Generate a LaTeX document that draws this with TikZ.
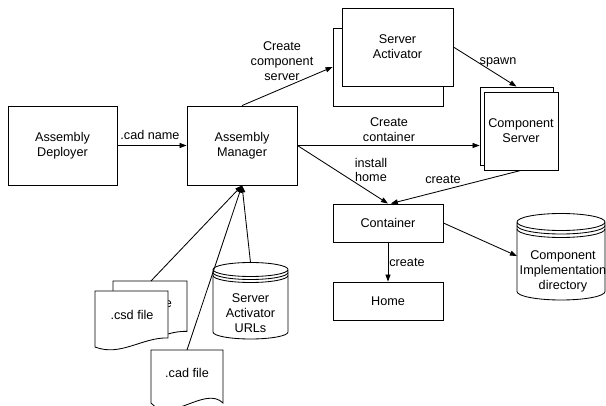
\documentclass[tikz,border=0pt]{standalone}
\usepackage{fontspec}
\setmainfont{Liberation Sans}
\usepackage{tikz}
\usetikzlibrary{arrows.meta}

\begin{document}
\begin{tikzpicture}[x=0.025cm,y=0.025cm,line width=0.6pt,>={Triangle[length=5pt,width=3.6pt]},
  font=\fontsize{9}{10.6}\selectfont,
  box/.style={draw,fill=white,inner sep=1pt,align=center},
  lbl/.style={inner sep=0pt,align=center}]
  \useasboundingbox (0,0) rectangle (606,-406);
  % boxes
  \node[box,minimum width=2.725cm,minimum height=1.975cm] (deployer) at (62.5,-145.5) {Assembly\\Deployer};
  \node[box,minimum width=2.75cm,minimum height=1.975cm] (manager) at (242,-145.5) {Assembly\\Manager};
  \node[box,minimum width=2.75cm,minimum height=1.95cm] (saback) at (388,-67) {};
  \node[box,minimum width=2.775cm,minimum height=1.95cm] (safront) at (397.5,-47) {Server\\Activator};
  \node[box,minimum width=1.825cm,minimum height=1.95cm] (csback) at (516.5,-126) {};
  \node[box,minimum width=1.85cm,minimum height=1.95cm] (csfront) at (521,-131) {Component\\Server};
  \node[box,minimum width=2.75cm,minimum height=0.95cm] (container) at (388,-223) {Container};
  \node[box,minimum width=2.75cm,minimum height=0.95cm] (home) at (388,-301) {Home};
  % databases
  \draw[fill=white] (213,-269.5) -- (213,-332) arc[start angle=180,end angle=360,x radius=37.5,y radius=7]
    -- (288,-269.5) arc[start angle=0,end angle=360,x radius=37.5,y radius=7];
  \draw (213,-272.5) arc[start angle=180,end angle=360,x radius=37.5,y radius=7];
  \draw (213,-275.5) arc[start angle=180,end angle=360,x radius=37.5,y radius=7];
  \node[lbl] (urls) at (250.5,-313) {Server\\Activator\\URLs};
  \coordinate (urltop) at (250.5,-262.5);
  \draw[fill=white] (517,-222) -- (517,-291.5) arc[start angle=180,end angle=360,x radius=44,y radius=8.5]
    -- (605,-222) arc[start angle=0,end angle=360,x radius=44,y radius=8.5];
  \draw (517,-225.5) arc[start angle=180,end angle=360,x radius=44,y radius=8.5];
  \draw (517,-229) arc[start angle=180,end angle=360,x radius=44,y radius=8.5];
  \node[lbl] (cid) at (563,-271.5) {Component\\Implementation\\directory};
  \coordinate (cidwest) at (517,-256);
  % documents
  \draw[fill=white] (113,-281) -- (187,-281) -- (187,-331.4) .. controls (161.1,-330.2) and (138.9,-351.8) .. (113,-341) -- cycle;
  \node[lbl] (csdback) at (150.5,-303) {.csd file};
  \coordinate (csdtop) at (151,-281);
  \draw[fill=white] (95,-291) -- (168,-291) -- (168,-338) .. controls (142.5,-337) and (120.6,-357) .. (95,-347) -- cycle;
  \node[lbl] (csdfront) at (132,-315) {.csd file};
  \draw[fill=white] (151,-350) -- (223,-350) -- (223,-403) .. controls (205,-385) and (170,-425) .. (151,-403) -- cycle;
  \node[lbl] (cadfile) at (187,-373) {.cad file};
  \coordinate (cadtop) at (187,-350);
  % connectors
  \draw[->] (deployer) -- (manager);
  \node[lbl] (cadname) at (150,-135) {.cad name};
  \draw[->] (manager.north) -- (saback.west);
  \node[lbl] (mkserver) at (282,-61) {Create\\component\\server};
  \draw[->] (safront.east) -- (csback.north);
  \node[lbl] (spawn) at (498,-62) {spawn};
  \draw[->] (manager.east) -- (manager.east -| csback.west);
  \node[lbl] (mkcontainer) at (389,-130) {Create\\container};
  \draw[->] (manager.east) -- (container.north);
  \node[lbl] (install) at (371,-170) {install\\home};
  \draw[->] (csfront.south) -- ([xshift=2pt]container.north);
  \node[lbl] (mkcont) at (443,-179) {create};
  \draw[->] (container) -- (home);
  \node[lbl] (mkhome) at (407,-262) {create};
  \draw[->] (container.east) -- (cidwest);
  \draw[->] (csdtop) -- (manager.south);
  \draw[->] (cadtop) -- (manager.south);
  \draw[->] (urltop) -- (manager.south);
\end{tikzpicture}
\end{document}
